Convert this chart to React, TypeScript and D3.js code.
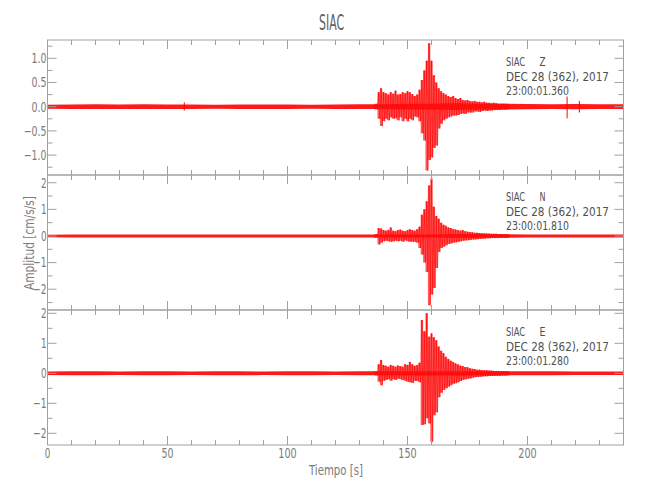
import React from "react";
import * as d3 from "d3";

// ---------- data ----------
const noiseTimes = [0, 10, 20, 30, 40, 50, 60, 70, 80, 90, 100, 110, 120, 130, 140, 150, 160, 170, 180, 190, 200, 210, 220, 230, 240];
const noiseZ = [0.04, 0.045, 0.05, 0.045, 0.05, 0.045, 0.045, 0.04, 0.045, 0.045, 0.045, 0.04, 0.045, 0.05, 0.05, 0.06, 0.06, 0.07, 0.06, 0.06, 0.055, 0.05, 0.055, 0.05, 0.05];
const noiseN = [0.05, 0.055, 0.06, 0.06, 0.055, 0.06, 0.06, 0.055, 0.06, 0.06, 0.06, 0.055, 0.06, 0.06, 0.06, 0.06, 0.06, 0.07, 0.07, 0.065, 0.06, 0.06, 0.06, 0.055, 0.055];
const noiseE = [0.06, 0.065, 0.065, 0.06, 0.065, 0.065, 0.06, 0.065, 0.065, 0.06, 0.065, 0.065, 0.06, 0.065, 0.065, 0.07, 0.07, 0.07, 0.07, 0.07, 0.065, 0.065, 0.06, 0.06, 0.06];

const eventTimes = [136, 137, 138, 139, 140, 141, 142, 143, 144, 145, 146, 147, 148, 149, 150, 151, 152, 153, 154, 155, 156, 157, 158, 159, 160, 161, 162, 163, 164, 165, 166, 167, 168, 169, 170, 171, 172, 173, 174, 175, 176, 177, 178, 179, 180, 181, 182, 183, 184, 185, 186, 187, 188, 189, 190, 191, 192];

const zHigh = [0.05, 0.06, 0.30, 0.38, 0.30, 0.28, 0.25, 0.30, 0.27, 0.33,
  0.25, 0.26, 0.30, 0.28, 0.32, 0.30, 0.26, 0.22, 0.25, 0.35,
  0.55, 0.75, 0.95, 1.31, 0.95, 0.65, 0.50, 0.38, 0.32, 0.28,
  0.25, 0.22, 0.20, 0.22, 0.18, 0.16, 0.18, 0.14, 0.13, 0.14,
  0.12, 0.11, 0.12, 0.10, 0.10, 0.09, 0.10, 0.08, 0.08, 0.07,
  0.08, 0.07, 0.06, 0.06, 0.06, 0.06, 0.05];
const zLow = [-0.05, -0.06, -0.25, -0.40, -0.30, -0.25, -0.28, -0.22, -0.25, -0.24,
  -0.28, -0.22, -0.30, -0.25, -0.30, -0.25, -0.28, -0.20, -0.22, -0.30,
  -0.55, -0.70, -1.32, -1.10, -1.05, -0.85, -0.80, -0.45, -0.35, -0.28,
  -0.25, -0.22, -0.20, -0.18, -0.18, -0.17, -0.15, -0.14, -0.15, -0.12,
  -0.12, -0.12, -0.10, -0.10, -0.11, -0.09, -0.08, -0.09, -0.08, -0.08,
  -0.07, -0.07, -0.07, -0.06, -0.06, -0.06, -0.05];

const nHigh = [0.06, 0.07, 0.30, 0.28, 0.22, 0.20, 0.22, 0.32, 0.20, 0.18,
  0.22, 0.24, 0.20, 0.18, 0.22, 0.25, 0.22, 0.20, 0.25, 0.35,
  0.80, 1.00, 1.30, 1.90, 2.16, 1.10, 0.75, 0.65, 0.50, 0.42,
  0.38, 0.32, 0.30, 0.26, 0.24, 0.22, 0.20, 0.22, 0.18, 0.16,
  0.15, 0.14, 0.12, 0.12, 0.11, 0.10, 0.10, 0.09, 0.09, 0.08,
  0.08, 0.08, 0.07, 0.07, 0.07, 0.07, 0.06];
const nLow = [-0.06, -0.07, -0.32, -0.25, -0.20, -0.18, -0.20, -0.22, -0.20, -0.18,
  -0.20, -0.18, -0.22, -0.17, -0.20, -0.22, -0.22, -0.22, -0.25, -0.45,
  -0.70, -1.00, -1.35, -2.60, -2.20, -1.95, -1.20, -0.60, -0.45, -0.40,
  -0.35, -0.30, -0.28, -0.25, -0.24, -0.22, -0.20, -0.18, -0.17, -0.16,
  -0.15, -0.13, -0.13, -0.12, -0.11, -0.10, -0.10, -0.09, -0.09, -0.08,
  -0.08, -0.08, -0.07, -0.07, -0.07, -0.07, -0.06];

const eHigh = [0.06, 0.06, 0.30, 0.44, 0.28, 0.25, 0.22, 0.28, 0.25, 0.22,
  0.26, 0.24, 0.22, 0.30, 0.28, 0.38, 0.30, 0.25, 0.28, 0.35,
  1.78, 1.40, 2.00, 1.22, 1.33, 1.20, 1.10, 0.89, 0.75, 0.67,
  0.55, 0.48, 0.42, 0.38, 0.33, 0.30, 0.26, 0.24, 0.21, 0.20,
  0.17, 0.15, 0.14, 0.12, 0.12, 0.11, 0.10, 0.10, 0.09, 0.09,
  0.08, 0.08, 0.08, 0.07, 0.07, 0.07, 0.07];
const eLow = [-0.06, -0.07, -0.28, -0.40, -0.25, -0.22, -0.20, -0.25, -0.20, -0.22,
  -0.18, -0.20, -0.22, -0.25, -0.28, -0.30, -0.32, -0.25, -0.26, -0.30,
  -1.72, -1.70, -1.50, -1.67, -2.28, -1.40, -1.30, -0.80, -0.65, -0.56,
  -0.50, -0.45, -0.40, -0.35, -0.33, -0.30, -0.26, -0.22, -0.20, -0.18,
  -0.17, -0.15, -0.13, -0.12, -0.12, -0.11, -0.10, -0.10, -0.09, -0.09,
  -0.08, -0.08, -0.08, -0.07, -0.07, -0.07, -0.07];

// isolated spikes: [time, high, low]
const spikesZ: [number, number, number][] = [[57, 0.09, -0.08], [216.5, 0.21, -0.24], [221.6, 0.12, -0.12]];
const spikesN: [number, number, number][] = [];
const spikesE: [number, number, number][] = [];

const xTicksMajor = [0, 50, 100, 150, 200];
const xTicksMinor = [0, 10, 20, 30, 40, 50, 60, 70, 80, 90, 100, 110, 120, 130, 140, 150, 160, 170, 180, 190, 200, 210, 220, 230, 240];

const channels = ["Z", "N", "E"];
const startTimes = ["23:00:01.360", "23:00:01.810", "23:00:01.280"];
const yDomains: [number, number][] = [[-1.411, 1.378], [-2.78, 2.29], [-2.39, 2.11]];
const yMajor = [[-1.0, -0.5, 0.0, 0.5, 1.0], [-2, -1, 0, 1, 2], [-2, -1, 0, 1, 2]];
const yMinor = [
  [-1.25, -1.0, -0.75, -0.5, -0.25, 0, 0.25, 0.5, 0.75, 1.0, 1.25],
  [-2.5, -2, -1.5, -1, -0.5, 0, 0.5, 1, 1.5, 2],
  [-2, -1.5, -1, -0.5, 0, 0.5, 1, 1.5, 2],
];
const yFormats = [".1f", "d", "d"];
const noiseSets = [noiseZ, noiseN, noiseE];
const highSets = [zHigh, nHigh, eHigh];
const lowSets = [zLow, nLow, eLow];
const spikeSets = [spikesZ, spikesN, spikesE];

// ---------- layout ----------
const W = 650, H = 500;
const left = 47.5, right = 623.5;
const panelTops = [40, 175, 310];
const panelH = 135;
const axisColor = "#a0a0a0";
const labelColor = "#7c7c7c";
const textColor = "#505050";
const FONT = "'DejaVu Sans Condensed', 'DejaVu Sans', sans-serif";

// width of a tick label in px (narrow plotter font)
function labelWidth(s: string) {
  let w = 0;
  for (const c of s) w += c === "." ? 3.8 : c === "\u2212" || c === "-" ? 7.8 : 5.6;
  return w;
}

export default function App() {
  const x = d3.scaleLinear().domain([0, 240]).range([left, right]);

  return (
    <svg width={W} height={H} style={{ position: "absolute", left: 0, top: 0, background: "#fff" }} fontFamily={FONT}>
      <defs>
        {panelTops.map((top, i) => (
          <clipPath id={`clip${i}`} key={i}>
            <rect x={left} y={top} width={right - left} height={panelH} />
          </clipPath>
        ))}
      </defs>
      <text x={331.5} y={30} textAnchor="middle" fontSize={21} fill="#606060" textLength={25} lengthAdjust="spacingAndGlyphs">SIAC</text>

      {panelTops.map((top, i) => {
        const bottom = top + panelH;
        const y = d3.scaleLinear().domain(yDomains[i]).range([bottom, top]);
        const noise = noiseSets[i];
        const area = d3.area<number>()
          .x((_, k) => x(noiseTimes[k]))
          .y0((_, k) => y(-noise[k]))
          .y1((_, k) => y(noise[k]));
        const hi = highSets[i], lo = lowSets[i];
        const evArea = d3.area<number>()
          .x((t) => x(t))
          .y0((_, k) => y(lo[k]))
          .y1((_, k) => y(hi[k]))
          .curve(d3.curveStep);
        const pts: [number, number][] = [];
        eventTimes.forEach((t, k) => {
          pts.push([x(t), y(hi[k])]);
          pts.push([x(t + 0.5), y(lo[k])]);
        });
        const zig = d3.line()(pts) || "";
        const fmt = d3.format(yFormats[i]);
        return (
          <g key={i}>
            <g clipPath={`url(#clip${i})`}>
              <path d={area(noise) || ""} fill="#ff0000" fillOpacity={0.9} />
              <path d={evArea(eventTimes) || ""} fill="#ff1a1a" fillOpacity={0.72} />
              <path d={zig} fill="none" stroke="#ff0000" strokeWidth={0.6} />
              {spikeSets[i].map((s, k) => (
                <line key={k} x1={x(s[0])} x2={x(s[0])} y1={y(s[1])} y2={y(s[2])} stroke="#ff0000" strokeWidth={1} />
              ))}
            </g>
            {/* frame */}
            <rect x={left} y={top} width={right - left} height={panelH} fill="none" stroke={axisColor} strokeWidth={1} />
            {/* x ticks top & bottom */}
            {xTicksMinor.map((t) => {
              const len = xTicksMajor.includes(t) ? 9 : 5;
              return (
                <g key={t} stroke={axisColor} strokeWidth={1}>
                  <line x1={x(t)} x2={x(t)} y1={top} y2={top + len} />
                  <line x1={x(t)} x2={x(t)} y1={bottom} y2={bottom - len} />
                </g>
              );
            })}
            {/* y ticks left & right */}
            {yMinor[i].map((v) => {
              const len = yMajor[i].includes(v) ? 9 : 5;
              return (
                <g key={v} stroke={axisColor} strokeWidth={1}>
                  <line x1={left} x2={left + len} y1={y(v)} y2={y(v)} />
                  <line x1={right} x2={right - len} y1={y(v)} y2={y(v)} />
                </g>
              );
            })}
            {yMajor[i].map((v) => {
              const s = fmt(v);
              return (
                <text key={v} x={left - 1} y={y(v) + 4.8} textAnchor="end" fontSize={13.5} fill={labelColor} textLength={labelWidth(s)} lengthAdjust="spacingAndGlyphs">
                  {s}
                </text>
              );
            })}
            {/* annotation */}
            <g fill={textColor} fontSize={12.5}>
              <text x={506} y={top + 26} textLength={19} lengthAdjust="spacingAndGlyphs">SIAC</text>
              <text x={539.5} y={top + 26} textLength={6} lengthAdjust="spacingAndGlyphs">{channels[i]}</text>
              <text x={506} y={top + 40.5} textLength={103} lengthAdjust="spacingAndGlyphs">DEC 28 (362), 2017</text>
              <text x={506} y={top + 55} textLength={63} lengthAdjust="spacingAndGlyphs">{startTimes[i]}</text>
            </g>
          </g>
        );
      })}

      {xTicksMajor.map((t) => {
        const s = String(t);
        return (
          <text key={t} x={x(t)} y={458} textAnchor="middle" fontSize={13.5} fill={labelColor} textLength={labelWidth(s) + (s.length - 1) * 0.8} lengthAdjust="spacingAndGlyphs">
            {s}
          </text>
        );
      })}
      <text x={336} y={475} textAnchor="middle" fontSize={13.5} fill={labelColor} textLength={54} lengthAdjust="spacingAndGlyphs">Tiempo [s]</text>
      <text transform="translate(34,243) rotate(-90)" textAnchor="middle" fontSize={13.5} fill={labelColor} textLength={94} lengthAdjust="spacingAndGlyphs">Amplitud [cm/s/s]</text>
    </svg>
  );
}
